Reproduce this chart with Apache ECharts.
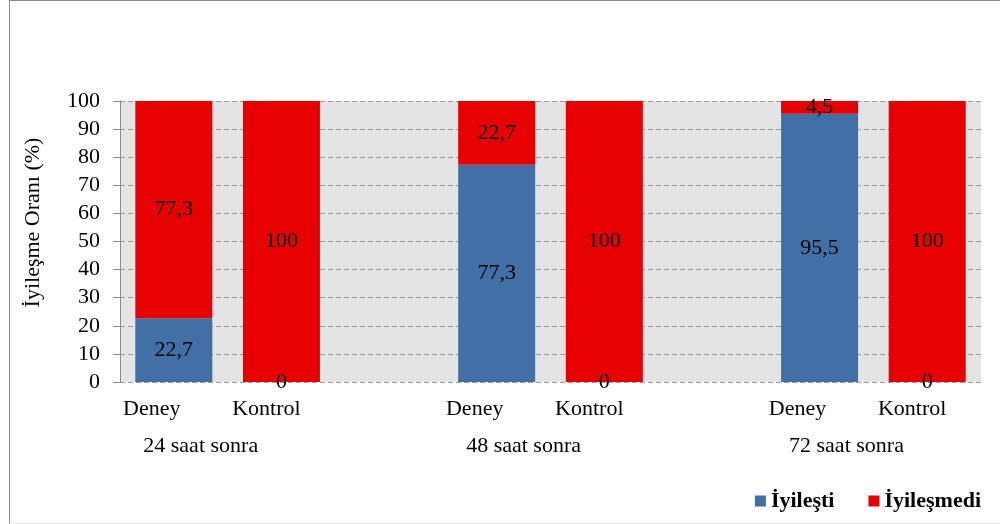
<!DOCTYPE html>
<html lang="tr">

<head>
    <meta charset="UTF-8">
    <title>İyileşme Oranı</title>
    <script src="https://cdn.jsdelivr.net/npm/echarts@6.0.0/dist/echarts.min.js"></script>
    <style>
        body {
            margin: 0;
            background: #fff;
        }

        #wrap {
            position: relative;
            width: 1000px;
            height: 524px;
        }

        /* dış çerçeve */
        #frame {
            position: absolute;
            left: 9px;
            top: 0;
            width: 991px;
            height: 522px;
            border-left: 1px solid #8c8c8c;
            border-top: 1px solid #8c8c8c;
            border-bottom: 1px solid #e6e6e6;
            pointer-events: none;
        }

        #chart {
            width: 1000px;
            height: 524px;
        }
    </style>
</head>

<body>
    <div id="wrap">
        <div id="chart"></div>
        <div id="frame"></div>
    </div>

    <script>
        // kategoriler (boş olanlar gruplar arası boşluk)
        let kategoriler = ["Deney", "Kontrol", "", "Deney", "Kontrol", "", "Deney", "Kontrol"];
        let gruplar = ["", "24 saat sonra", "", "", "", "", "", "48 saat sonra", "", "", "", "", "", "72 saat sonra", "", ""];
        let iyilesti = [22.7, 0, null, 77.3, 0, null, 95.5, 0];
        let iyilesmedi = [77.3, 100, null, 22.7, 100, null, 4.5, 100];
        let yTicks = [0, 10, 20, 30, 40, 50, 60, 70, 80, 90, 100];

        let serif = "'Liberation Serif', 'Times New Roman', serif";
        let fs = 22;

        function virgul(p) {
            return String(p.value).replace(".", ",");
        }

        let chart = echarts.init(document.getElementById("chart"));
        chart.setOption({
            animation: false,
            grid: {
                left: 120,
                right: 19,
                top: 101,
                bottom: 142,
                show: true,
                backgroundColor: "#e4e4e4",
                borderWidth: 0
            },
            legend: {
                right: 14,
                top: 485,
                itemWidth: 11,
                itemHeight: 11,
                itemGap: 34,
                icon: "rect",
                textStyle: { fontFamily: serif, fontSize: 22, fontWeight: "bold", color: "#000" },
                data: ["İyileşti", "İyileşmedi"]
            },
            xAxis: [
                {
                    type: "category",
                    data: kategoriler,
                    axisLine: { show: false },
                    axisTick: { show: false },
                    axisLabel: {
                        interval: 0,
                        margin: 16,
                        formatter: function (v) {
                            if (v === "Deney") return "{d|Deney}";
                            if (v === "Kontrol") return "{k|Kontrol}";
                            return "";
                        },
                        rich: {
                            d: { fontFamily: serif, fontSize: fs, color: "#000", padding: [0, 44, 0, 0] },
                            k: { fontFamily: serif, fontSize: fs, color: "#000", padding: [0, 30, 0, 0] }
                        }
                    }
                },
                {
                    type: "category",
                    position: "bottom",
                    data: gruplar,
                    axisLine: { show: false },
                    axisTick: { show: false },
                    axisLabel: { interval: 0, margin: 53, fontFamily: serif, fontSize: fs, color: "#000" }
                }
            ],
            yAxis: {
                type: "value",
                min: yTicks[0],
                max: yTicks[yTicks.length - 1],
                interval: 10,
                name: "İyileşme Oranı (%)",
                nameLocation: "middle",
                nameGap: 76,
                nameTextStyle: { fontFamily: serif, fontSize: fs, color: "#000", padding: [0, 0, 0, 38] },
                axisLine: { show: true, lineStyle: { color: "#8c8c8c", width: 1 } },
                axisTick: { show: true, length: 7, lineStyle: { color: "#8c8c8c" } },
                axisLabel: { margin: 20, fontFamily: serif, fontSize: fs, color: "#000" },
                splitLine: { lineStyle: { color: "#9a9a9a", type: [5, 3], width: 1 } }
            },
            series: [
                {
                    name: "İyileşti",
                    type: "bar",
                    stack: "toplam",
                    barWidth: 77,
                    data: iyilesti,
                    itemStyle: { color: "#426fa6" },
                    label: { show: true, position: "inside", formatter: virgul, fontFamily: serif, fontSize: fs, color: "#000" }
                },
                {
                    name: "İyileşmedi",
                    type: "bar",
                    stack: "toplam",
                    barWidth: 77,
                    data: iyilesmedi,
                    itemStyle: { color: "#e60000" },
                    label: { show: true, position: "inside", formatter: virgul, fontFamily: serif, fontSize: fs, color: "#000" }
                }
            ]
        });
    </script>

</body>

</html>
